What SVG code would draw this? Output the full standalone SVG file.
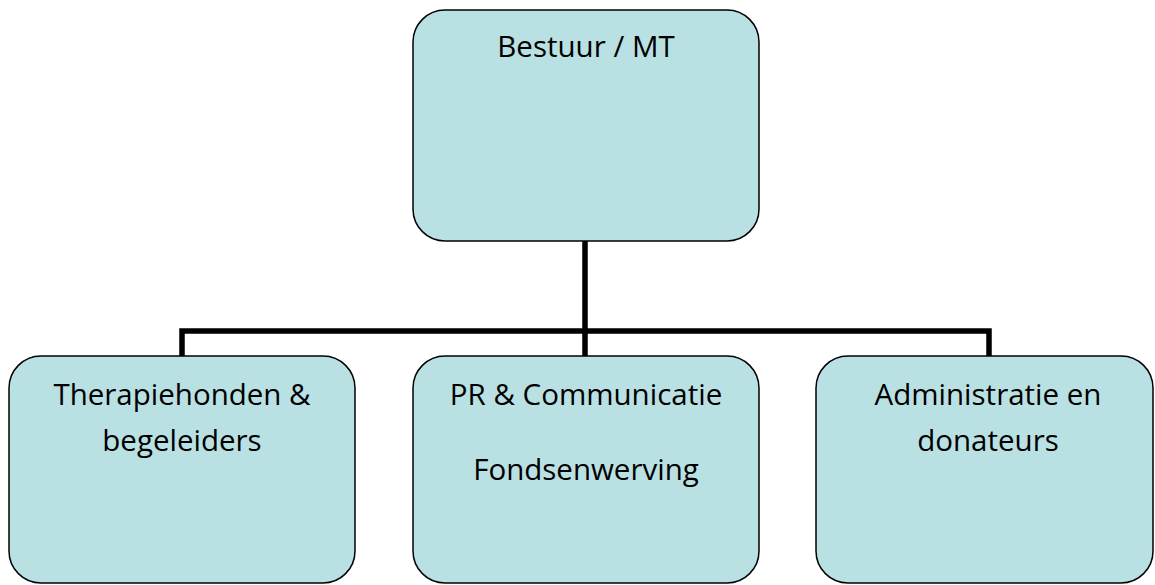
<svg xmlns="http://www.w3.org/2000/svg" width="1155" height="585" viewBox="0 0 1155 585">
<style>
.box{fill:#B9E0E3;stroke:#000;stroke-width:1.5}
.lbl{font-family:"Open Sans","Liberation Sans",sans-serif;font-size:29.5px;fill:#000;text-anchor:middle}
.conn{fill:none;stroke:#000;stroke-width:5.5}
</style>
<rect width="1155" height="585" fill="#fff"/>
<g id="connectors">
<path class="conn" d="M585 241 V331 M182 358 V331 H989 V358 M585 331 V358"/>
</g>
<g id="bestuur">
<rect class="box" x="413" y="10" width="346" height="231" rx="32"/>
<text class="lbl" x="586" y="57">Bestuur / MT</text>
</g>
<g id="therapiehonden">
<rect class="box" x="9" y="356" width="346" height="227" rx="32"/>
<text class="lbl" x="182" y="405">Therapiehonden &amp;</text>
<text class="lbl" x="182" y="451">begeleiders</text>
</g>
<g id="pr">
<rect class="box" x="413" y="356" width="346" height="227" rx="32"/>
<text class="lbl" x="586" y="405">PR &amp; Communicatie</text>
<text class="lbl" x="586" y="480">Fondsenwerving</text>
</g>
<g id="administratie">
<rect class="box" x="816" y="356" width="337" height="227" rx="32"/>
<text class="lbl" x="988" y="405">Administratie en</text>
<text class="lbl" x="988" y="451">donateurs</text>
</g>
</svg>
